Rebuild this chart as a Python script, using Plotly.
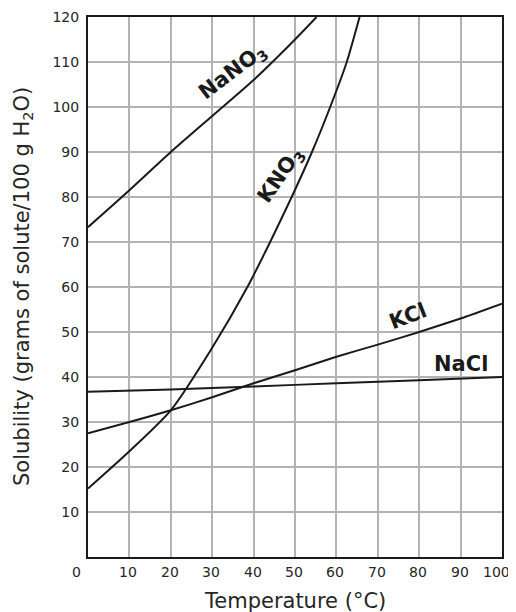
import plotly.graph_objects as go

# Temperature (°C) and solubility (g solute / 100 g H2O)
nano3_t = [0, 10, 20, 30, 40, 50, 55.2]
nano3_v = [73.3, 81.5, 90, 98, 106, 115, 120]

kno3_t = [0, 10, 20, 30, 38.5, 44, 49.2, 54.1, 58.5, 62.5, 65.6]
kno3_v = [15.2, 23.5, 32.6, 46.5, 60, 70, 80, 90, 100, 110, 120]

kcl_t = [0, 10, 20, 30, 40, 50, 60, 70, 80, 90, 100]
kcl_v = [27.5, 30, 32.6, 35.5, 38.6, 41.5, 44.5, 47.2, 50, 53, 56.3]

nacl_t = [0, 20, 40, 60, 80, 100]
nacl_v = [36.7, 37.2, 37.9, 38.6, 39.3, 40]

x_ticks = [0, 10, 20, 30, 40, 50, 60, 70, 80, 90, 100]
x_tick_labels = ["0", "10", "20", "30", "40", "50", "60", "70", "80", "90", "100"]
y_ticks = [10, 20, 30, 40, 50, 60, 70, 80, 90, 100, 110, 120]
y_tick_labels = ["10", "20", "30", "40", "50", "60", "70", "80", "90", "100", "110", "120"]

curve_labels = ["NaNO<sub>3</sub>", "KNO<sub>3</sub>", "KCl", "NaCl"]
label_x = [35.0, 46.7, 77.4, 90.2]
label_y = [107.8, 84.8, 53.6, 42.8]
label_angle = [-37, -55, -21, 0]

x_title = "Temperature (°C)"
y_title = "Solubility (grams of solute/100 g H<sub>2</sub>O)"

FONT = "DejaVu Sans"
INK = "#1a1a1a"
TXT = "#262626"

fig = go.Figure()
for t, v in [(nano3_t, nano3_v), (kno3_t, kno3_v), (kcl_t, kcl_v), (nacl_t, nacl_v)]:
    fig.add_trace(go.Scatter(x=t, y=v, mode="lines",
                             line=dict(color=INK, width=2, shape="spline", smoothing=0.6),
                             showlegend=False, hoverinfo="skip"))

for txt, lx, ly, ang in zip(curve_labels, label_x, label_y, label_angle):
    fig.add_annotation(x=lx, y=ly, text="<b>" + txt + "</b>", textangle=ang,
                       showarrow=False, font=dict(family=FONT, size=21, color=INK))

# x tick labels (0 and 100 sit slightly left, as in the original)
for v, lab in zip(x_ticks, x_tick_labels):
    shift = -12 if v == 0 else (-6 if v == 100 else -1)
    fig.add_annotation(x=v, y=0, xref="x", yref="paper", yanchor="top", yshift=-5,
                       xshift=shift, text=lab, showarrow=False,
                       font=dict(family=FONT, size=14, color=TXT))

# axis titles
fig.add_annotation(x=0.5, y=0, xref="paper", yref="paper", yanchor="middle",
                   yshift=-44, text=x_title, showarrow=False,
                   font=dict(family=FONT, size=21, color=TXT))
fig.add_annotation(x=0, y=0.5, xref="paper", yref="paper", xanchor="center",
                   xshift=-65, text=y_title, textangle=-90, showarrow=False,
                   font=dict(family=FONT, size=21, color=TXT))

fig.update_layout(
    width=516, height=612,
    margin=dict(l=80, r=22, t=9, b=63),
    paper_bgcolor="white", plot_bgcolor="white",
    font=dict(family=FONT, color=TXT),
)
fig.update_xaxes(
    range=[0, 100], tickvals=x_ticks, showticklabels=False,
    showgrid=True, gridcolor="#b3b3b3", gridwidth=2,
    showline=True, linecolor=INK, linewidth=2, mirror=True,
    zeroline=False, ticks="", automargin=False,
)
fig.update_yaxes(
    range=[0, 120], tickvals=y_ticks, ticktext=y_tick_labels,
    showgrid=True, gridcolor="#b3b3b3", gridwidth=2,
    showline=True, linecolor=INK, linewidth=2, mirror=True,
    zeroline=False, ticks="", ticklabelstandoff=4, automargin=False,
    tickfont=dict(size=14, color=TXT),
)

fig.write_html("out.html")
